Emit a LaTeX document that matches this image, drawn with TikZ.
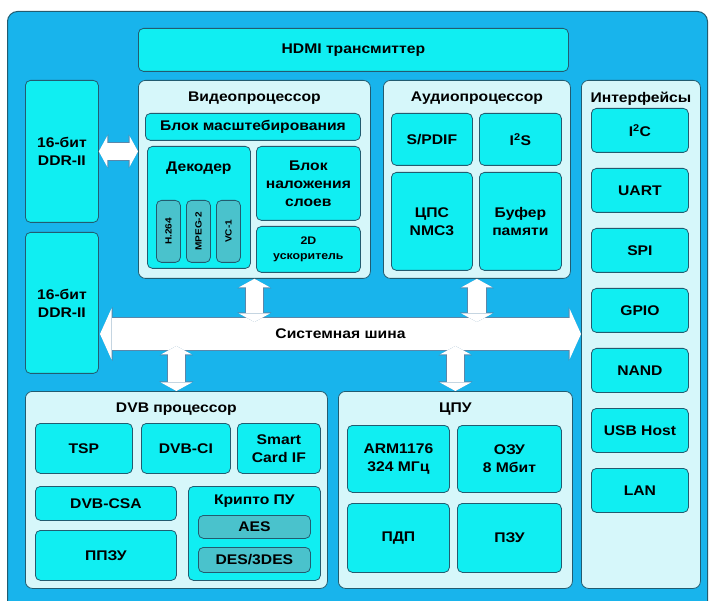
\documentclass[tikz,border=0pt]{standalone}
\usepackage{fontspec}
\setmainfont{Liberation Sans}[FakeStretch=1.12]
\usetikzlibrary{arrows.meta}
\definecolor{sky}{RGB}{24,180,236}
\definecolor{pale}{RGB}{214,247,250}
\definecolor{cyanbox}{RGB}{16,238,242}
\definecolor{tealbox}{RGB}{74,194,204}
\definecolor{edge}{RGB}{34,92,112}
\definecolor{arrowedge}{RGB}{90,135,170}
\tikzset{
  wh/.style 2 args={minimum width=#1pt, minimum height=#2pt},
  board/.style={draw=edge, fill=sky, line width=1pt, rounded corners=10pt, anchor=north west, inner sep=0pt},
  panel/.style={draw=edge, fill=pale, line width=.8pt, rounded corners=7pt, anchor=north west, inner sep=0pt},
  cbox/.style={draw=edge, fill=cyanbox, line width=.8pt, rounded corners=5pt, anchor=north west,
    align=center, inner sep=1pt, font=\bfseries\fontsize{14}{18}\selectfont},
  sbox/.style={cbox, fill=tealbox, font=\bfseries\fontsize{9}{10}\selectfont},
  title/.style={anchor=north, inner sep=2pt, font=\bfseries\fontsize{14}{18}\selectfont},
  link/.style={preaction={draw=arrowedge, line width=19.2pt,
      arrows={Triangle[length=9.5pt,width=34pt,line width=0pt]-Triangle[length=9.5pt,width=34pt,line width=0pt]}},
    draw=white, line width=17.6pt,
    arrows={Triangle[length=8.5pt,width=31pt,line width=0pt]-Triangle[length=8.5pt,width=31pt,line width=0pt]}},
  busline/.style={preaction={draw=arrowedge, line width=33.2pt,
      arrows={Triangle[length=12.5pt,width=54pt,line width=0pt]-Triangle[length=12.5pt,width=54pt,line width=0pt]}},
    draw=white, line width=31.6pt,
    arrows={Triangle[length=11.5pt,width=51pt,line width=0pt]-Triangle[length=11.5pt,width=51pt,line width=0pt]}},
}
\begin{document}
\begin{tikzpicture}[x=1pt,y=-1pt,line join=round]
  \useasboundingbox (0,0) rectangle (712,601);
  \node[board, wh={700}{606}] (board) at (7,11) {};

  % top row
  \node[cbox, wh={430}{43}] (hdmi) at (138,28) {HDMI трансмиттер};
  \node[cbox, wh={73}{142}] (ddr1) at (25,80) {16-бит\\DDR-II};
  \node[cbox, wh={73}{141}] (ddr2) at (25,232) {16-бит\\DDR-II};

  % video
  \node[panel, wh={232}{198}] (video) at (138,80) {};
  \node[title] (videot) at (video.north) [below=10pt] {Видеопроцессор};
  \node[cbox, wh={215}{27}] (scale) at (145,113) {Блок масштебирования};
  \node[cbox, wh={103}{122}] (dec) at (147,146) {};
  \node[title] (dect) at (dec.north) [below=14pt] {Декодер};
  \node[sbox, wh={24}{62}] (h264) at (156,200) {\rotatebox{90}{H.264}};
  \node[sbox, wh={24}{62}] (mpeg) at (186,200) {\rotatebox{90}{MPEG-2}};
  \node[sbox, wh={24}{62}] (vc1) at (216,200) {\rotatebox{90}{VC-1}};
  \node[cbox, wh={104}{74}] (overlay) at (256,146) {Блок\\наложения\\слоев};
  \node[cbox, wh={104}{46}, font=\bfseries\fontsize{11}{15}\selectfont] (acc) at (256,226) {2D\\ускоритель};

  % audio
  \node[panel, wh={187}{198}] (audio) at (383,80) {};
  \node[title] (audiot) at (audio.north) [below=10pt] {Аудиопроцессор};
  \node[cbox, wh={81}{52}] (spdif) at (391,113) {S/PDIF};
  \node[cbox, wh={82}{52}] (i2s) at (479,113) {I\textsuperscript{2}S};
  \node[cbox, wh={81}{98}] (dsp) at (391,172) {ЦПС\\NMC3};
  \node[cbox, wh={82}{98}] (buf) at (479,172) {Буфер\\памяти};

  % interfaces
  \node[panel, wh={119}{508}] (ifc) at (581,80) {};
  \node[title] (ifct) at (ifc.north) [below=10pt] {Интерфейсы};
  \foreach \txt [count=\i from 0] in {I\textsuperscript{2}C,UART,SPI,GPIO,NAND,USB Host,LAN}
    \node[cbox, wh={97}{44}] (if\i) at (591,108+60*\i) {\txt};

  % dvb
  \node[panel, wh={302}{197}] (dvb) at (25,391) {};
  \node[title] (dvbt) at (dvb.north) [below=10pt] {DVB процессор};
  \node[cbox, wh={97}{50}] (tsp) at (35,423) {TSP};
  \node[cbox, wh={89}{50}] (dvbci) at (141,423) {DVB-CI};
  \node[cbox, wh={83}{50}] (smart) at (237,423) {Smart\\Card IF};
  \node[cbox, wh={141}{34}] (csa) at (35,486) {DVB-CSA};
  \node[cbox, wh={141}{50}] (ppzu) at (35,530) {ППЗУ};
  \node[cbox, wh={132}{94}] (crypto) at (188,486) {};
  \node[title] (cryptot) at (crypto.north) [below=7pt] {Крипто ПУ};
  \node[sbox, wh={112}{23}, font=\bfseries\fontsize{14}{18}\selectfont] (aes) at (198,515) {AES};
  \node[sbox, wh={112}{25}, font=\bfseries\fontsize{14}{18}\selectfont] (des) at (198,547) {DES/3DES};

  % cpu
  \node[panel, wh={234}{197}] (cpu) at (338,391) {};
  \node[title] (cput) at (cpu.north) [below=10pt] {ЦПУ};
  \node[cbox, wh={102}{67}] (arm) at (347,425) {ARM1176\\324 МГц};
  \node[cbox, wh={104}{67}] (ozu) at (457,425) {ОЗУ\\8 Мбит};
  \node[cbox, wh={102}{69}] (pdp) at (347,503) {ПДП};
  \node[cbox, wh={104}{69}] (pzu) at (457,503) {ПЗУ};

  % bus and links
  \coordinate (busL) at (100,334);
  \draw[busline] (busL) -- (busL -| ifc.west)
    node[midway, font=\bfseries\fontsize{14}{18}\selectfont] (bus) {Системная шина};
  \draw[link] (ddr1.east) -- (ddr1.east -| video.west);
  \draw[link, shorten >=12pt] (video.south) -- (video.south |- bus.center);
  \draw[link, shorten >=12pt] (audio.south) -- (audio.south |- bus.center);
  \draw[link, shorten >=12pt] (dvb.north) -- (dvb.north |- bus.center);
  \draw[link, shorten >=12pt] (cpu.north) -- (cpu.north |- bus.center);
\end{tikzpicture}
\end{document}
